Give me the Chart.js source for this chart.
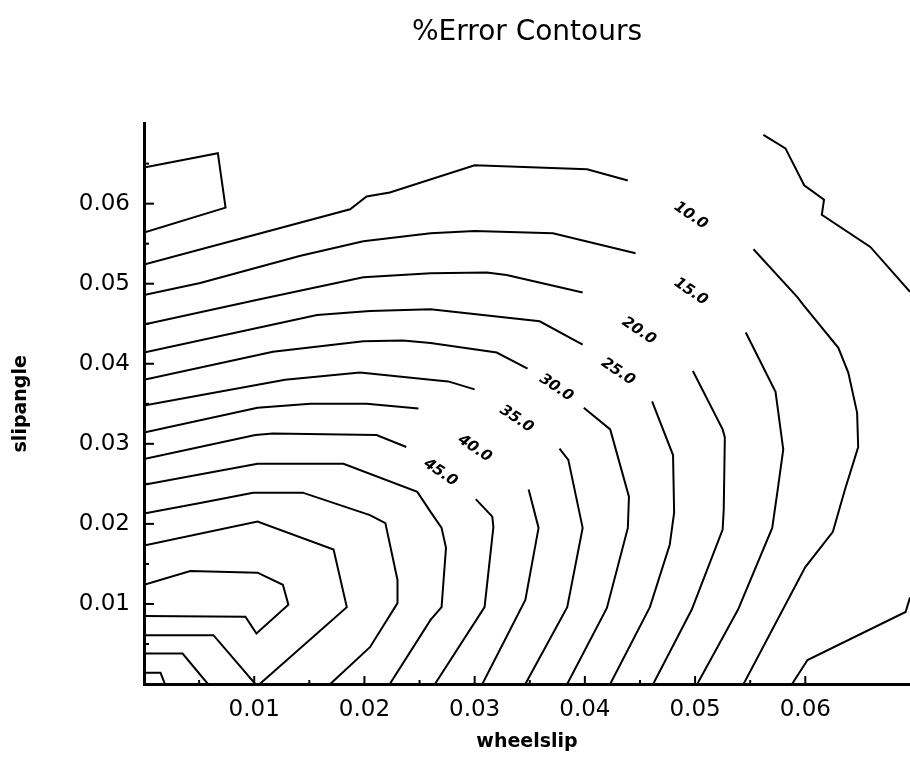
<!DOCTYPE html>
<html>
<head>
<meta charset="utf-8">
<script src="https://cdn.jsdelivr.net/npm/chart.js@4.4.0/dist/chart.umd.min.js"></script>
<style>
  html, body { margin: 0; padding: 0; background: #fff; }
</style>
</head>
<body>
<canvas id="chart" width="910" height="767"></canvas>
<script>
// Axis ranges (wheelslip on x, slipangle on y)
const X_MIN = 0, X_MAX = 0.0695;
const Y_MIN = 0, Y_MAX = 0.07;

// Contour lines as [wheelslip, slipangle] pairs
const c05a = [[0, 0.0645], [0.0067, 0.0663], [0.0074, 0.0595], [0, 0.0564]];
const c05b = [[0.0562, 0.0686], [0.0582, 0.0669], [0.0599, 0.0623], [0.0617, 0.0605], [0.0615, 0.0586], [0.0659, 0.0546], [0.0695, 0.0490]];
const c05c = [[0.0588, 0], [0.0602, 0.0030], [0.0691, 0.0090], [0.0695, 0.0108]];

const c10a = [[0, 0.0524], [0.0187, 0.0593], [0.0202, 0.0609], [0.0223, 0.0614], [0.0300, 0.0648], [0.0402, 0.0643], [0.0439, 0.0629]];
const c10b = [[0.0553, 0.0543], [0.0593, 0.0483], [0.0598, 0.0474], [0.0630, 0.0420], [0.0639, 0.0389], [0.0647, 0.0339], [0.0648, 0.0296], [0.0636, 0.0243], [0.0625, 0.0190], [0.0600, 0.0146], [0.0544, 0]];

const c15a = [[0, 0.0486], [0.0051, 0.0501], [0.0142, 0.0535], [0.0199, 0.0553], [0.0260, 0.0563], [0.0300, 0.0566], [0.0371, 0.0563], [0.0446, 0.0538]];
const c15b = [[0.0546, 0.0439], [0.0573, 0.0365], [0.0580, 0.0293], [0.0575, 0.0243], [0.0570, 0.0195], [0.0539, 0.0093], [0.0502, 0]];

const c20a = [[0, 0.0449], [0.0103, 0.0480], [0.0199, 0.0508], [0.0260, 0.0513], [0.0311, 0.0514], [0.0329, 0.0511], [0.0398, 0.0489]];
const c20b = [[0.0498, 0.0391], [0.0525, 0.0318], [0.0527, 0.0308], [0.0526, 0.0218], [0.0525, 0.0193], [0.0497, 0.0093], [0.0462, 0]];

const c25a = [[0, 0.0414], [0.0157, 0.0461], [0.0205, 0.0466], [0.0260, 0.0468], [0.0359, 0.0453], [0.0398, 0.0424]];
const c25b = [[0.0461, 0.0353], [0.0480, 0.0286], [0.0481, 0.0214], [0.0477, 0.0174], [0.0459, 0.0096], [0.0423, 0]];

const c30a = [[0, 0.0380], [0.0117, 0.0415], [0.0199, 0.0428], [0.0235, 0.0429], [0.0260, 0.0426], [0.0320, 0.0414], [0.0348, 0.0394]];
const c30b = [[0.0399, 0.0345], [0.0423, 0.0318], [0.0440, 0.0234], [0.0439, 0.0195], [0.0420, 0.0095], [0.0384, 0]];

const c35a = [[0, 0.0348], [0.0128, 0.0380], [0.0196, 0.0389], [0.0260, 0.0380], [0.0276, 0.0378], [0.0300, 0.0368]];
const c35b = [[0.0377, 0.0294], [0.0385, 0.0280], [0.0398, 0.0195], [0.0384, 0.0096], [0.0346, 0]];

const c40a = [[0, 0.0314], [0.0103, 0.0345], [0.0151, 0.0350], [0.0202, 0.0350], [0.0249, 0.0344]];
const c40b = [[0.0349, 0.0243], [0.0358, 0.0195], [0.0346, 0.0105], [0.0307, 0]];

const c45a = [[0, 0.0281], [0.0101, 0.0311], [0.0117, 0.0313], [0.0211, 0.0311], [0.0238, 0.0296]];
const c45b = [[0.0301, 0.0231], [0.0316, 0.0209], [0.0317, 0.0196], [0.0309, 0.0096], [0.0264, 0]];

const c50 = [[0, 0.0249], [0.0103, 0.0275], [0.0181, 0.0275], [0.0248, 0.0240], [0.0260, 0.0215], [0.0270, 0.0195], [0.0274, 0.0170], [0.0270, 0.0096], [0.0260, 0.0080], [0.0223, 0]];
const c55 = [[0, 0.0213], [0.0051, 0.0226], [0.0099, 0.0239], [0.0144, 0.0239], [0.0205, 0.0211], [0.0219, 0.0201], [0.0230, 0.0130], [0.0230, 0.0101], [0.0205, 0.0046], [0.0169, 0]];
const c60 = [[0, 0.0173], [0.0103, 0.0203], [0.0172, 0.0168], [0.0184, 0.0096], [0.0105, 0]];
const c65 = [[0, 0.0124], [0.0042, 0.0141], [0.0103, 0.0139], [0.0126, 0.0124], [0.0131, 0.0099], [0.0102, 0.0063], [0.0092, 0.0084], [0, 0.0085]];
const c70 = [[0, 0.0061], [0.0063, 0.0061], [0.0101, 0]];
const c75 = [[0, 0.0038], [0.0035, 0.0038], [0.0058, 0]];
const c80 = [[0, 0.0014], [0.0015, 0.0014], [0.0019, 0]];

const contourLines = [c05a, c05b, c05c, c10a, c10b, c15a, c15b, c20a, c20b, c25a, c25b,
    c30a, c30b, c35a, c35b, c40a, c40b, c45a, c45b, c50, c55, c60, c65, c70, c75, c80];

// Contour level labels and where they sit on the plot
const labelText = ['10.0', '15.0', '20.0', '25.0', '30.0', '35.0', '40.0', '45.0'];
const labelX = [0.0496, 0.0496, 0.0449, 0.0430, 0.0374, 0.0338, 0.0300, 0.0269];
const labelY = [0.0585, 0.0490, 0.0441, 0.0390, 0.0370, 0.0331, 0.0294, 0.0264];

const FONT = '"DejaVu Sans", sans-serif';

function isStep(v, step) {
    const n = Math.round(v * 1000);
    return Math.abs(v * 1000 - n) < 1e-6 && n % step === 0;
}

function tickLabel(value) {
    const v = Number(value);
    if (!isStep(v, 10) || v <= 0 || v > 0.065) return '';
    return v.toFixed(2);
}

// Short tick marks pointing into the plot, longer on the hundredths
const innerTicks = {
    id: 'innerTicks',
    afterDraw(chart) {
        const { ctx, chartArea, scales } = chart;
        ctx.save();
        ctx.strokeStyle = '#000';
        ctx.lineWidth = 2;
        scales.x.ticks.forEach(t => {
            if (!isStep(t.value, 5) || t.value <= 0) return;
            const px = scales.x.getPixelForValue(t.value);
            const len = isStep(t.value, 10) ? 8 : 4;
            ctx.beginPath();
            ctx.moveTo(px, chartArea.bottom);
            ctx.lineTo(px, chartArea.bottom - len);
            ctx.stroke();
        });
        scales.y.ticks.forEach(t => {
            if (!isStep(t.value, 5) || t.value <= 0 || t.value >= Y_MAX) return;
            const py = scales.y.getPixelForValue(t.value);
            const len = isStep(t.value, 10) ? 10 : 5;
            ctx.beginPath();
            ctx.moveTo(chartArea.left, py);
            ctx.lineTo(chartArea.left + len, py);
            ctx.stroke();
        });
        ctx.restore();
    }
};

// Rotated level labels placed in the gaps of the contours
const contourLabels = {
    id: 'contourLabels',
    afterDatasetsDraw(chart) {
        const { ctx, scales } = chart;
        ctx.save();
        ctx.fillStyle = '#000';
        ctx.font = 'italic bold 15px ' + FONT;
        ctx.textAlign = 'center';
        ctx.textBaseline = 'middle';
        labelText.forEach((txt, i) => {
            const px = scales.x.getPixelForValue(labelX[i]);
            const py = scales.y.getPixelForValue(labelY[i]);
            ctx.save();
            ctx.translate(px, py);
            ctx.rotate(34 * Math.PI / 180);
            ctx.fillText(txt, 0, 0);
            ctx.restore();
        });
        ctx.restore();
    }
};

const datasets = contourLines.map(line => ({
    data: line.map(p => ({ x: p[0], y: p[1] })),
    showLine: true,
    borderColor: '#000',
    borderWidth: 2,
    pointRadius: 0,
    fill: false,
    tension: 0
}));

new Chart(document.getElementById('chart'), {
    type: 'scatter',
    data: { datasets },
    plugins: [innerTicks, contourLabels],
    options: {
        responsive: false,
        devicePixelRatio: 1,
        animation: false,
        events: [],
        layout: { padding: 0 },
        plugins: {
            legend: { display: false },
            tooltip: { enabled: false },
            title: {
                display: true,
                fullSize: false,
                text: '%Error Contours',
                color: '#000',
                font: { family: FONT, size: 28, weight: 'normal' },
                padding: { top: 16, bottom: 74 }
            }
        },
        scales: {
            x: {
                type: 'linear',
                min: X_MIN,
                max: X_MAX,
                afterFit: s => { s.height = 83; s.paddingLeft = 0; s.paddingRight = 0; },
                grid: { display: false, drawTicks: false },
                border: { display: true, color: '#000', width: 3 },
                ticks: {
                    stepSize: 0.005,
                    autoSkip: false,
                    maxRotation: 0,
                    padding: 12,
                    color: '#000',
                    font: { family: FONT, size: 23 },
                    callback: tickLabel
                },
                title: {
                    display: true,
                    text: 'wheelslip',
                    color: '#000',
                    font: { family: FONT, size: 19, weight: 'bold' },
                    padding: { top: 0, bottom: 14 }
                }
            },
            y: {
                type: 'linear',
                min: Y_MIN,
                max: Y_MAX,
                afterFit: s => { s.width = 144; },
                grid: { display: false, drawTicks: false },
                border: { display: true, color: '#000', width: 3 },
                ticks: {
                    stepSize: 0.005,
                    autoSkip: false,
                    padding: 14,
                    color: '#000',
                    font: { family: FONT, size: 23 },
                    callback: tickLabel
                },
                title: {
                    display: true,
                    text: 'slipangle',
                    color: '#000',
                    font: { family: FONT, size: 19, weight: 'bold' },
                    padding: { top: 10, bottom: 0 }
                }
            }
        }
    }
});
</script>
</body>
</html>
